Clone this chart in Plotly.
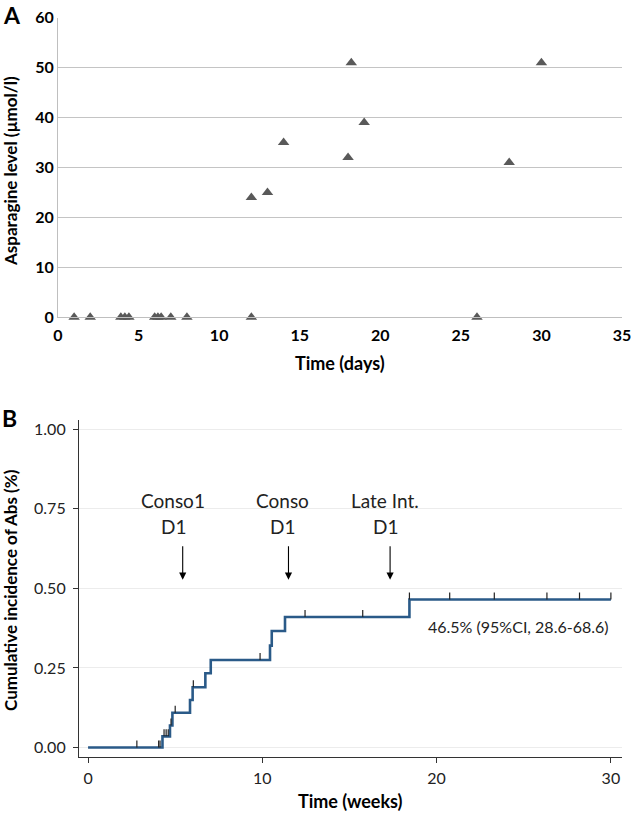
import numpy as np
import plotly.graph_objects as go

W, H = 631, 815
FONT = "Lato"

# Panel A: asparagine levels
dias = [1, 2, 3.9, 4.15, 4.4, 6, 6.2, 6.4, 7, 8, 12, 12, 13, 14, 18, 18.2, 19, 26, 28, 30]
asparagina = [0, 0, 0, 0, 0, 0, 0, 0, 0, 0, 0, 24, 25, 35, 32, 51, 39, 0, 31, 51]
ticks_dias = [0, 5, 10, 15, 20, 25, 30, 35]
ticks_asp = [0, 10, 20, 30, 40, 50, 60]

# Panel B: cumulative incidence (step function)
semanas = [0, 4.27, 4.70, 4.84, 5.85, 6.0, 6.73, 7.04, 10.44, 10.54, 11.3, 18.44, 30.0]
incidencia = [0, 0.035, 0.069, 0.109, 0.149, 0.189, 0.233, 0.275, 0.32, 0.366, 0.41, 0.465, 0.465]
censuras = [2.8, 4.05, 4.13, 4.36, 4.48, 4.6, 4.76, 5.0, 6.04, 9.87, 12.45, 15.76,
            18.44, 20.75, 23.31, 26.33, 28.2, 30.0]
ticks_semanas = [0, 10, 20, 30]
ticks_inc = [0, 0.25, 0.5, 0.75, 1.0]

# flechas de fases
fases = ["Conso1", "Conso", "Late Int."]
fases_x_texto = [4.9, 11.13, 17.06]
fases_x_flecha = [5.43, 11.5, 17.33]
flecha_arriba, flecha_punta = 0.637, 0.527
texto_linea1, texto_linea2 = 0.776, 0.694
nota = "46.5% (95%CI, 28.6-68.6)"
nota_x, nota_y = 24.67, 0.38


def px_y(p):
    return 1 - p / H


def px_x(p):
    return p / W


def valor_en(t):
    idx = np.searchsorted(semanas, t, side="right") - 1
    return incidencia[max(idx, 0)]


fig = go.Figure()

fig.add_trace(go.Scatter(
    x=dias, y=asparagina, mode="markers",
    marker=dict(symbol="triangle-up", size=10, color="#595959"),
    xaxis="x", yaxis="y", showlegend=False, cliponaxis=False))

fig.add_trace(go.Scatter(
    x=semanas, y=incidencia, mode="lines", line_shape="hv",
    line=dict(color="#2a5a88", width=2.6),
    xaxis="x2", yaxis="y2", showlegend=False))

# marcas de censura: barra vertical hacia arriba
fig.add_trace(go.Scatter(
    x=censuras, y=[valor_en(t) for t in censuras], mode="markers",
    marker=dict(size=1, color="rgba(0,0,0,0)"),
    error_y=dict(type="constant", symmetric=False, value=0.022, valueminus=0,
                 width=0, thickness=1.2, color="#222"),
    xaxis="x2", yaxis="y2", showlegend=False))

bold = dict(family=FONT, size=16, color="black", weight="bold")
regular = dict(family=FONT, size=16, color="#222")

fig.update_layout(
    width=W, height=H, template="none",
    margin=dict(l=0, r=0, t=0, b=0),
    paper_bgcolor="white", plot_bgcolor="white",
    font=dict(family=FONT, color="black"),
    xaxis=dict(domain=[px_x(58), px_x(622)], range=[0, 35], tickvals=ticks_dias,
               anchor="y", showgrid=False, zeroline=False, showline=True,
               linecolor="#bfbfbf", linewidth=1, ticks="", ticklen=0, tickfont=bold,
               ticklabelstandoff=3, ticklabeloverflow="allow", automargin=False),
    yaxis=dict(domain=[px_y(317.3), px_y(17.7)], range=[0, 60], tickvals=ticks_asp,
               anchor="x", showgrid=True, gridcolor="#c4c4c4", gridwidth=1,
               zeroline=False, showline=True, linecolor="#bfbfbf", linewidth=1,
               ticks="", ticklen=0, tickfont=bold, ticklabeloverflow="allow",
               automargin=False),
    xaxis2=dict(domain=[px_x(79), px_x(621.7)], range=[-0.52, 30.62], tickvals=ticks_semanas,
                anchor="y2", showgrid=False, zeroline=False, showline=True,
                linecolor="#333", linewidth=1.2, ticks="outside", ticklen=5,
                tickcolor="#333", tickfont=regular, ticklabelstandoff=2,
                ticklabeloverflow="allow", automargin=False),
    yaxis2=dict(domain=[px_y(756.7), px_y(420)], range=[-0.029, 1.029], tickvals=ticks_inc,
                tickformat=".2f", anchor="x2", showgrid=True, gridcolor="#ececec",
                zeroline=False, showline=True, linecolor="#333", linewidth=1.2,
                ticks="outside", ticklen=5, tickcolor="#333", tickfont=regular,
                ticklabelstandoff=4, ticklabeloverflow="allow", automargin=False),
)

anots = [
    dict(text="A", x=px_x(1), y=px_y(-1), xanchor="left", yanchor="top",
         font=dict(family=FONT, size=23, weight="bold")),
    dict(text="B", x=px_x(0), y=px_y(402), xanchor="left", yanchor="top",
         font=dict(family=FONT, size=23, weight="bold")),
    dict(text="Asparagine level (µmol/l)", x=px_x(10), y=px_y(171), textangle=-90,
         xanchor="center", yanchor="middle", font=dict(family=FONT, size=17, weight="bold")),
    dict(text="Time (days)", x=px_x(340), y=px_y(363), xanchor="center", yanchor="middle",
         font=dict(family=FONT, size=18, weight="bold")),
    dict(text="Cumulative incidence of Abs (%)", x=px_x(10), y=px_y(590), textangle=-90,
         xanchor="center", yanchor="middle", font=dict(family=FONT, size=17, weight="bold")),
    dict(text="Time (weeks)", x=px_x(350), y=px_y(801), xanchor="center", yanchor="middle",
         font=dict(family=FONT, size=18, weight="bold")),
]
for a in anots:
    a.update(xref="paper", yref="paper", showarrow=False)
    fig.add_annotation(**a)

for nombre, xt, xf in zip(fases, fases_x_texto, fases_x_flecha):
    fig.add_annotation(text=nombre, x=xt, y=texto_linea1, xref="x2", yref="y2",
                       showarrow=False, font=dict(family=FONT, size=19, color="#222"))
    fig.add_annotation(text="D1", x=xt, y=texto_linea2, xref="x2", yref="y2",
                       showarrow=False, font=dict(family=FONT, size=19, color="#222"))
    fig.add_annotation(text="", x=xf, y=flecha_punta, ax=xf, ay=flecha_arriba,
                       xref="x2", yref="y2", axref="x2", ayref="y2",
                       showarrow=True, arrowhead=2, arrowsize=1.3, arrowwidth=1.1,
                       arrowcolor="black")

fig.add_annotation(text=nota, x=nota_x, y=nota_y, xref="x2", yref="y2", showarrow=False,
                   font=dict(family=FONT, size=16, color="#222"))

# quitar el margen del body para que la figura ocupe toda la ventana
fig.write_html("out.html", config={"displayModeBar": False},
               post_script="document.body.style.margin='0';"
               "document.body.style.overflow='hidden';")
